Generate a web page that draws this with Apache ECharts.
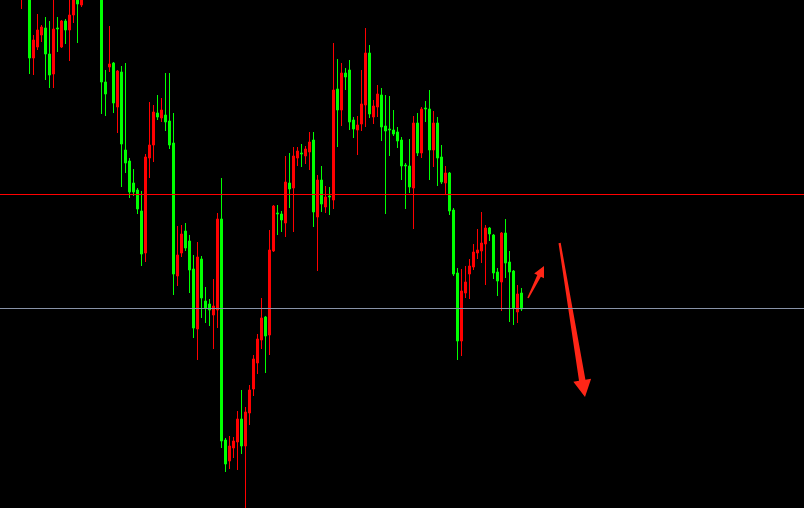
<!DOCTYPE html>
<html>
<head>
<meta charset="utf-8">
<style>
html,body{margin:0;padding:0;background:#000;}
#chart{width:804px;height:508px;}
</style>
<script src="https://cdn.jsdelivr.net/npm/echarts/dist/echarts.min.js"></script>
</head>
<body>
<div id="chart"></div>
<script>
// Price levels (arbitrary units)
const opens = [540,552,546,538,518,532,522,450,461,473,480,454,434,480,461,487,478,493,515,503,
  515,530,545,540,525,426,441,445,401,436,358,347,325,318,297,255,350,363,395,390,
  393,387,365,232,255,277,267,239,179,249,207,204,193,198,289,68,47,60,66,89,
  62,95,119,145,168,191,173,257,295,294,285,325,320,350,355,352,356,368,291,328,
  301,312,308,419,398,435,438,388,378,384,403,455,391,401,413,382,379,378,376,368,
  343,342,320,385,355,400,399,358,385,351,325,335,298,235,167,215,234,241,255,257,
  264,280,273,236,226,275,246,237,196,215];
const closes = [552,546,538,528,530,520,450,468,478,481,454,433,479,479,487,478,493,512,504,515,
  530,545,530,525,426,414,444,405,437,364,345,316,316,299,254,351,363,396,391,398,
  386,363,234,253,274,260,238,180,251,210,200,198,202,289,67,44,62,67,89,62,
  96,118,149,169,190,172,258,302,294,288,326,319,352,357,354,359,366,296,328,304,
  311,311,418,398,435,431,386,379,383,404,455,394,402,414,381,377,378,374,367,342,
  342,321,385,355,399,399,358,385,350,326,335,297,234,167,217,226,242,256,258,265,
  280,274,235,227,275,245,236,200,214,199];
const lows = [532,540,530,520,499,512,434,433,458,466,428,420,420,456,460,464,447,485,465,501,
  512,525,522,515,394,392,436,395,375,321,335,310,312,294,242,246,330,346,388,386,
  377,359,213,222,251,257,215,170,148,190,185,182,159,180,60,36,39,50,38,54,
  0,83,112,134,159,135,153,256,273,276,271,300,276,342,341,344,338,281,237,296,
  295,293,299,361,382,418,378,370,353,377,381,390,384,391,367,294,352,372,360,328,
  299,315,279,352,350,386,328,341,322,324,313,293,232,148,152,210,209,238,249,245,
  223,267,229,212,197,230,186,183,185,197];
const highs = [560,562,552,548,536,540,526,473,494,483,491,487,512,491,488,489,512,518,520,520,
  535,550,552,545,530,438,482,446,438,442,445,350,339,320,317,354,406,403,413,410,
  435,435,395,282,283,285,273,253,266,252,221,209,229,295,330,70,72,71,97,118,
  101,123,153,174,210,192,278,303,303,297,352,355,361,361,364,362,376,376,333,342,
  322,321,465,449,445,440,448,391,392,438,480,463,408,423,420,413,412,398,381,371,
  345,369,392,395,401,407,418,397,391,363,342,336,300,240,239,242,249,264,279,296,
  283,281,274,240,276,289,257,238,223,220];
const categoryCount = 200;
const categories = Array.from({length: categoryCount}, (_, i) => String(i + 1));
// Horizontal levels
const resistanceLevel = 314;
const supportLevel = 200;
// Arrow annotations: [tailX, tailLevel, tipX, tipLevel] (x in bar units of the overlay axis)
const arrows = [
  [132.0, 210, 136.0, 242],
  [139.9, 265, 146.25, 111]
];

const candleData = opens.map((o, i) => [o, closes[i], lows[i], highs[i]]);
const arrowSizes = [
  {tail: 1.5, neck: 4, headL: 11, headW: 11},
  {tail: 2.2, neck: 6.5, headL: 17, headW: 18}
];

const chart = echarts.init(document.getElementById('chart'), null, {renderer: 'canvas'});
chart.setOption({
  animation: false,
  backgroundColor: '#000000',
  grid: [
    {left: 3.5, right: 0.5, top: 0, bottom: 0, containLabel: false},
    {left: 0, right: 0, top: 0, bottom: 0, containLabel: false}
  ],
  xAxis: [
    {type: 'category', gridIndex: 0, data: categories, show: false, boundaryGap: true},
    {type: 'value', gridIndex: 1, min: 0, max: 201, show: false}
  ],
  yAxis: [
    {type: 'value', gridIndex: 0, min: 0, max: 508, show: false, splitLine: {show: false}},
    {type: 'value', gridIndex: 1, min: 0, max: 508, show: false, splitLine: {show: false}}
  ],
  series: [
    {
      type: 'line',
      xAxisIndex: 1,
      yAxisIndex: 1,
      data: [],
      silent: true,
      markLine: {
        silent: true,
        symbol: ['none', 'none'],
        label: {show: false},
        animation: false,
        data: [
          {yAxis: resistanceLevel, lineStyle: {color: '#ff0000', width: 1, type: 'solid'}},
          {yAxis: supportLevel, lineStyle: {color: '#8893a8', width: 1, type: 'solid'}}
        ]
      }
    },
    {
      type: 'candlestick',
      xAxisIndex: 0,
      yAxisIndex: 0,
      data: candleData,
      barWidth: 2,
      clip: true,
      itemStyle: {
        color: '#ff0000', color0: '#00ff00',
        borderColor: '#ff0000', borderColor0: '#00ff00',
        borderWidth: 1
      }
    },
    {
      type: 'custom',
      xAxisIndex: 1,
      yAxisIndex: 1,
      clip: false,
      data: arrows,
      renderItem: function (params, api) {
        const s = arrowSizes[params.dataIndex];
        const p0 = api.coord([api.value(0), api.value(1)]);
        const p1 = api.coord([api.value(2), api.value(3)]);
        const dx = p1[0] - p0[0], dy = p1[1] - p0[1];
        const len = Math.sqrt(dx * dx + dy * dy);
        const ux = dx / len, uy = dy / len;
        const nx = -uy, ny = ux;
        const bx = p1[0] - ux * s.headL, by = p1[1] - uy * s.headL;
        const pts = [
          [p0[0] + nx * s.tail / 2, p0[1] + ny * s.tail / 2],
          [bx + nx * s.neck / 2, by + ny * s.neck / 2],
          [bx + nx * s.headW / 2, by + ny * s.headW / 2],
          [p1[0], p1[1]],
          [bx - nx * s.headW / 2, by - ny * s.headW / 2],
          [bx - nx * s.neck / 2, by - ny * s.neck / 2],
          [p0[0] - nx * s.tail / 2, p0[1] - ny * s.tail / 2]
        ];
        return {type: 'polygon', shape: {points: pts}, style: {fill: '#ff2617'}};
      }
    }
  ]
});
</script>
</body>
</html>
